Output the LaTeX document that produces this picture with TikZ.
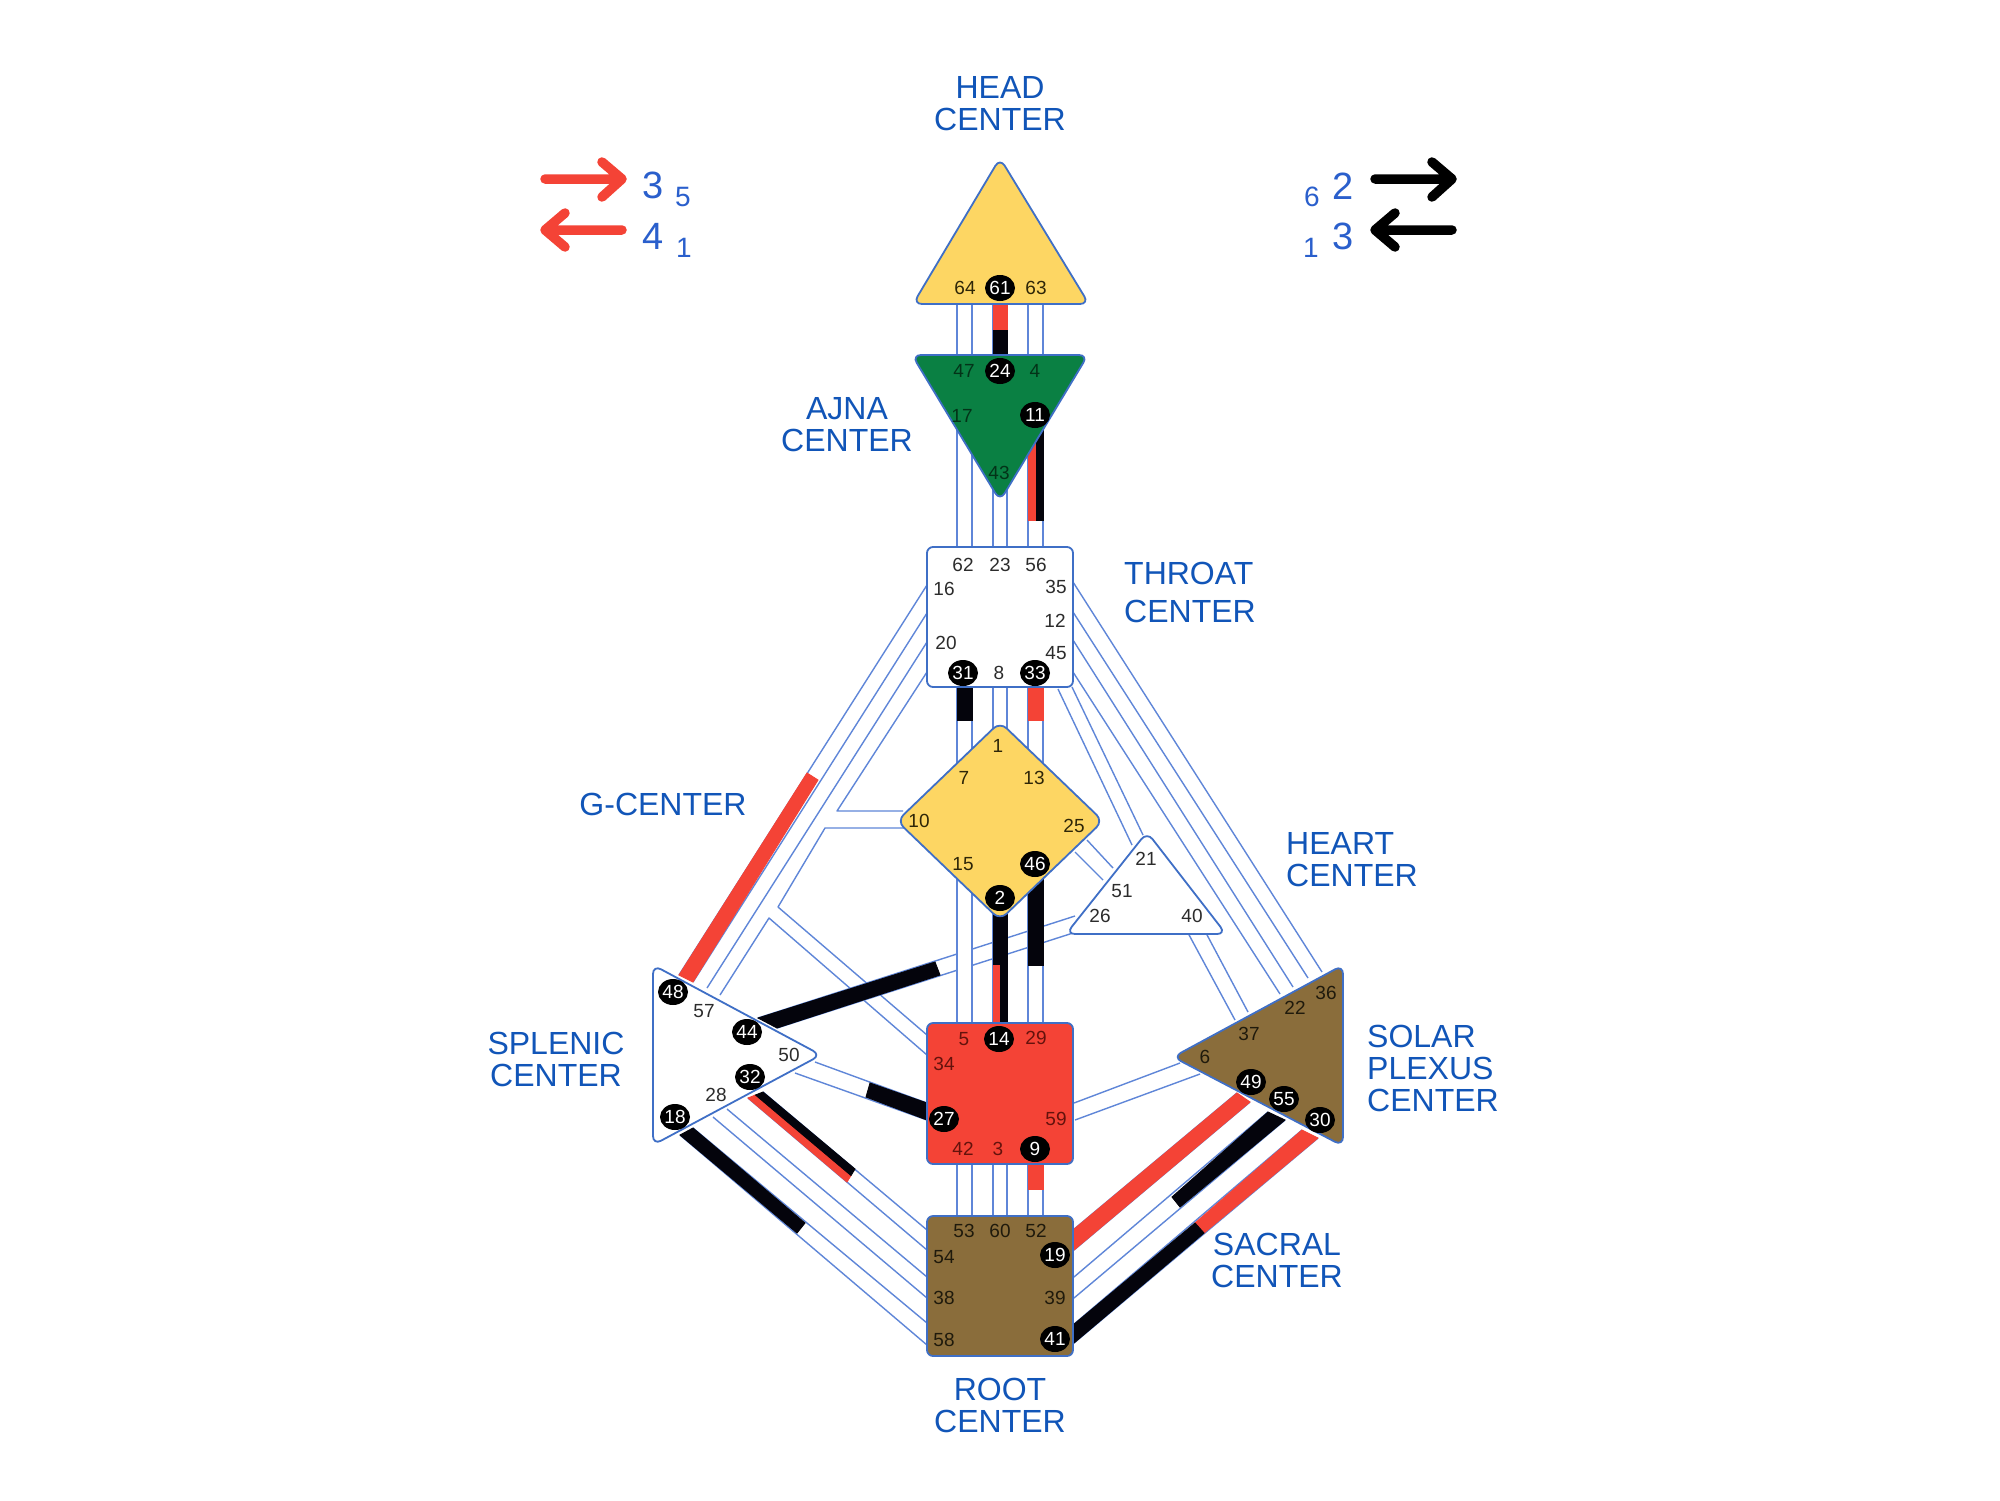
\documentclass[tikz,border=0pt]{standalone}
\usepackage{fontspec}
\setmainfont{Liberation Sans}
\usetikzlibrary{shapes.geometric}
\definecolor{edgeblue}{HTML}{5F86D8}
\definecolor{outlineblue}{HTML}{3F6FC6}
\definecolor{chred}{HTML}{F44336}
\definecolor{chblack}{HTML}{04040C}
\definecolor{headyellow}{HTML}{FDD663}
\definecolor{ajnagreen}{HTML}{0A8043}
\definecolor{rootbrown}{HTML}{8A6D3B}
\definecolor{labelblue}{HTML}{1155B8}
\definecolor{numblue}{HTML}{2A5FCC}
\definecolor{txtwhite}{HTML}{2C2C2C}
\definecolor{txtyellow}{HTML}{2E2608}
\definecolor{txtgreen}{HTML}{033318}
\definecolor{txtred}{HTML}{64120C}
\definecolor{txtbrown}{HTML}{1F1A0C}
\newcommand{\chan}[5]{%
  \coordinate (#1-a) at #2; \coordinate (#1-b) at #3;
  \coordinate (#1-c) at #4; \coordinate (#1-d) at #5;
  \fill[white] (#1-a) -- (#1-b) -- (#1-d) -- (#1-c) -- cycle;
  \draw[edgeline] (#1-a) -- (#1-c);
  \draw[edgeline] (#1-b) -- (#1-d);}
\newcommand{\seg}[5]{\fill[#1,draw=#1,line width=0.9pt] #2 -- #3 -- #4 -- #5 -- cycle;}
\tikzset{
  x=1pt,y=-1pt,
  edgeline/.style={draw=edgeblue,line width=1.4pt},
  centre/.style={draw=outlineblue,line width=1.8pt,line join=round,rounded corners=6pt},
  tri/.style={centre,rounded corners=9pt},
  gatebase/.style={inner sep=0pt,font=\fontsize{19}{19}\selectfont},
  gw/.style={gatebase,text=txtwhite},
  gy/.style={gatebase,text=txtyellow},
  gg/.style={gatebase,text=txtgreen},
  gr/.style={gatebase,text=txtred},
  gb/.style={gatebase,text=txtbrown},
  on/.style={gatebase,ellipse,fill=black,text=white,minimum width=30pt,minimum height=26pt},
  lab/.style={text=labelblue,inner sep=0pt,align=center,font=\fontsize{32}{32}\selectfont},
  labl/.style={lab,align=left,anchor=west},
  bignum/.style={text=numblue,inner sep=0pt,font=\fontsize{38}{38}\selectfont},
  smallnum/.style={text=numblue,inner sep=0pt,font=\fontsize{28}{28}\selectfont},
  arr/.style={line width=9.5pt,line cap=round,line join=round},
}
\begin{document}
\begin{tikzpicture}
\useasboundingbox (0,0) rectangle (2000,1500);
\fill[white] (0,0) rectangle (2000,1500);

% ---------- loose lines of the 20-57 and 10-34 channels
\coordinate (t3) at (927,642); \coordinate (s3) at (707,988);
\coordinate (t4) at (927,672); \coordinate (k1) at (837,811); \coordinate (d1) at (903,811);
\coordinate (d2) at (905,828); \coordinate (k2) at (825,828); \coordinate (k3) at (778,907);
\coordinate (r1) at (927,1035); \coordinate (r2) at (927,1055);
\coordinate (k4) at (769,918); \coordinate (s4) at (720,995);
\draw[edgeline] (t3) -- (s3);
\draw[edgeline,line join=round] (t4) -- (k1) -- (d1);
\draw[edgeline,line join=round] (d2) -- (k2) -- (k3) -- (r1);
\draw[edgeline,line join=round] (s4) -- (k4) -- (r2);

% ---------- diagonal channels
\chan{c16-48}{(927,585)}{(927,613)}{(679,975)}{(693,982)}
\seg{chred}{(807,773)}{(818,780)}{(693,982)}{(679,975)}

\chan{c44-26}{(758,1018)}{(777,1028)}{(1075,916)}{(1073,933)}
\seg{chblack}{(758,1018)}{(777,1028)}{(940,975)}{(935,962)}

\chan{c50-27}{(815,1062)}{(795,1073)}{(927,1103)}{(927,1120)}
\seg{chblack}{(870,1083)}{(866,1097)}{(927,1120)}{(927,1103)}

\chan{c59-6}{(1074,1103)}{(1075,1120)}{(1180,1063)}{(1200,1074)}
\chan{c25-51}{(1087,840)}{(1075,852)}{(1113,868)}{(1103,880)}
\chan{c35-36}{(1073,582)}{(1073,612)}{(1322,972)}{(1308,978)}
\chan{c12-22}{(1073,640)}{(1073,672)}{(1293,987)}{(1280,994)}
\chan{c45-21}{(1058,689)}{(1072,687)}{(1132,845)}{(1143,835)}
\chan{c40-37}{(1188,933)}{(1206,933)}{(1235,1020)}{(1248,1012)}

\chan{c18-58}{(680,1135)}{(693,1128)}{(927,1345)}{(927,1323)}
\seg{chblack}{(680,1135)}{(693,1128)}{(805,1223)}{(797,1233)}
\chan{c28-38}{(713,1117)}{(727,1109)}{(927,1298)}{(927,1277)}
\chan{c32-54}{(748,1098)}{(763,1092)}{(927,1250)}{(927,1230)}
\seg{chred}{(748,1098)}{(755.5,1095)}{(851,1175.5)}{(847,1182)}
\seg{chblack}{(755.5,1095)}{(763,1092)}{(855,1169)}{(851,1175.5)}

\chan{c49-19}{(1237,1093)}{(1250,1102)}{(1073,1230)}{(1074,1250)}
\seg{chred}{(1237,1093)}{(1250,1102)}{(1074,1250)}{(1073,1230)}
\chan{c55-39}{(1268,1112)}{(1285,1120)}{(1074,1277)}{(1074,1298)}
\seg{chblack}{(1268,1112)}{(1285,1120)}{(1180,1207)}{(1172,1197)}
\chan{c30-41}{(1302,1130)}{(1318,1138)}{(1073,1325)}{(1074,1343)}
\seg{chred}{(1302,1130)}{(1318,1138)}{(1204,1233)}{(1195,1223)}
\seg{chblack}{(1195,1223)}{(1204,1233)}{(1074,1343)}{(1073,1325)}

% ---------- vertical channels
\chan{c64-47}{(957,303)}{(972,303)}{(957,355)}{(972,355)}
\chan{c61-24}{(993,303)}{(1007,303)}{(993,355)}{(1007,355)}
\seg{chred}{(993,303)}{(1007,303)}{(1007,330)}{(993,330)}
\seg{chblack}{(993,330)}{(1007,330)}{(1007,355)}{(993,355)}
\chan{c63-4}{(1028,303)}{(1043,303)}{(1028,355)}{(1043,355)}

\chan{c17-62}{(957,420)}{(972,420)}{(957,547)}{(972,547)}
\chan{c43-23}{(993,480)}{(1007,480)}{(993,547)}{(1007,547)}
\chan{c11-56}{(1028,420)}{(1043,420)}{(1028,547)}{(1043,547)}
\seg{chred}{(1028,420)}{(1036,420)}{(1036,520)}{(1028,520)}
\seg{chblack}{(1036,420)}{(1043,420)}{(1043,520)}{(1036,520)}

\chan{c31-7}{(957,687)}{(972,687)}{(957,790)}{(972,790)}
\seg{chblack}{(957,687)}{(972,687)}{(972,720)}{(957,720)}
\chan{c8-1}{(993,687)}{(1007,687)}{(993,740)}{(1007,740)}
\chan{c33-13}{(1028,687)}{(1043,687)}{(1028,790)}{(1043,790)}
\seg{chred}{(1028,687)}{(1043,687)}{(1043,720)}{(1028,720)}

\chan{c15-5}{(957,860)}{(972,860)}{(957,1023)}{(972,1023)}
\chan{c2-14}{(993,890)}{(1007,890)}{(993,1023)}{(1007,1023)}
\seg{chblack}{(993,890)}{(1007,890)}{(1007,965)}{(993,965)}
\seg{chred}{(993,965)}{(1000,965)}{(1000,1023)}{(993,1023)}
\seg{chblack}{(1000,965)}{(1007,965)}{(1007,1023)}{(1000,1023)}
\chan{c46-29}{(1028,860)}{(1043,860)}{(1028,1023)}{(1043,1023)}
\seg{chblack}{(1028,860)}{(1043,860)}{(1043,965)}{(1028,965)}

\chan{c42-53}{(957,1164)}{(972,1164)}{(957,1216)}{(972,1216)}
\chan{c3-60}{(993,1164)}{(1007,1164)}{(993,1216)}{(1007,1216)}
\chan{c9-52}{(1028,1164)}{(1043,1164)}{(1028,1216)}{(1043,1216)}
\seg{chred}{(1028,1164)}{(1043,1164)}{(1043,1189)}{(1028,1189)}

% ---------- centres
\draw[tri,fill=headyellow] (1000,158) -- (1089,304) -- (913,304) -- cycle;
\draw[tri,fill=ajnagreen] (912,355) -- (1088,355) -- (1000,501) -- cycle;
\draw[centre,fill=white] (927,547) rectangle (1073,687);
\draw[tri,fill=headyellow] (1000,722) -- (1103,821) -- (1000,920) -- (897,821) -- cycle;
\draw[tri,fill=white] (1147,832) -- (1226,934) -- (1066,934) -- cycle;
\draw[tri,fill=white] (653,965) -- (821,1055) -- (653,1145) -- cycle;
\draw[tri,fill=rootbrown] (1343,965) -- (1343,1146) -- (1173,1057) -- cycle;
\draw[centre,fill=chred] (927,1023) rectangle (1073,1164);
\draw[centre,fill=rootbrown] (927,1216) rectangle (1073,1356);

% ---------- gates
\node[gy] (g64) at (965,288) {64};
\node[on] (g61) at (1000,288) {61};
\node[gy] (g63) at (1036,288) {63};

\node[gg] (g47) at (964,371) {47};
\node[on] (g24) at (1000,371) {24};
\node[gg] (g4) at (1035,371) {4};
\node[gg] (g17) at (962,416) {17};
\node[on] (g11) at (1035,415) {11};
\node[gg] (g43) at (999,473) {43};

\node[gw] (g62) at (963,565) {62};
\node[gw] (g23) at (1000,565) {23};
\node[gw] (g56) at (1036,565) {56};
\node[gw] (g16) at (944,589) {16};
\node[gw] (g35) at (1056,587) {35};
\node[gw] (g12) at (1055,621) {12};
\node[gw] (g20) at (946,643) {20};
\node[gw] (g45) at (1056,653) {45};
\node[on] (g31) at (963,673) {31};
\node[gw] (g8) at (999,673) {8};
\node[on] (g33) at (1035,673) {33};

\node[gy] (g1) at (998,746) {1};
\node[gy] (g7) at (964,778) {7};
\node[gy] (g13) at (1034,778) {13};
\node[gy] (g10) at (919,821) {10};
\node[gy] (g25) at (1074,826) {25};
\node[gy] (g15) at (963,864) {15};
\node[on] (g46) at (1035,864) {46};
\node[on] (g2) at (1000,898) {2};

\node[gw] (g21) at (1146,859) {21};
\node[gw] (g51) at (1122,891) {51};
\node[gw] (g26) at (1100,916) {26};
\node[gw] (g40) at (1192,916) {40};

\node[on] (g48) at (673,992) {48};
\node[gw] (g57) at (704,1011) {57};
\node[on] (g44) at (747,1032) {44};
\node[gw] (g50) at (789,1055) {50};
\node[on] (g32) at (750,1077) {32};
\node[gw] (g28) at (716,1095) {28};
\node[on] (g18) at (675,1117) {18};

\node[gr] (g5) at (964,1039) {5};
\node[on] (g14) at (999,1039) {14};
\node[gr] (g29) at (1036,1038) {29};
\node[gr] (g34) at (944,1064) {34};
\node[on] (g27) at (944,1119) {27};
\node[gr] (g59) at (1056,1119) {59};
\node[gr] (g42) at (963,1149) {42};
\node[gr] (g3) at (998,1149) {3};
\node[on] (g9) at (1035,1149) {9};

\node[gb] (g53) at (964,1231) {53};
\node[gb] (g60) at (1000,1231) {60};
\node[gb] (g52) at (1036,1231) {52};
\node[gb] (g54) at (944,1257) {54};
\node[on] (g19) at (1055,1255) {19};
\node[gb] (g38) at (944,1298) {38};
\node[gb] (g39) at (1055,1298) {39};
\node[gb] (g58) at (944,1340) {58};
\node[on] (g41) at (1055,1339) {41};

\node[gb] (g36) at (1326,993) {36};
\node[gb] (g22) at (1295,1008) {22};
\node[gb] (g37) at (1249,1034) {37};
\node[gb] (g6) at (1205,1057) {6};
\node[on] (g49) at (1251,1082) {49};
\node[on] (g55) at (1284,1099) {55};
\node[on] (g30) at (1320,1120) {30};

% ---------- labels
\node[lab] (lhead) at (1000,104) {HEAD\\CENTER};
\node[lab] (lajna) at (847,425) {AJNA\\CENTER};
\node[labl,font=\fontsize{32}{38}\selectfont] (lthroat) at (1124,592) {THROAT\\CENTER};
\node[lab] (lg) at (663,804) {G-CENTER};
\node[labl] (lheart) at (1286,860) {HEART\\CENTER};
\node[lab] (lspl) at (556,1059) {SPLENIC\\CENTER};
\node[labl] (lsolar) at (1367,1068) {SOLAR\\PLEXUS\\CENTER};
\node[lab] (lsac) at (1277,1260) {SACRAL\\CENTER};
\node[lab] (lroot) at (1000,1405) {ROOT\\CENTER};

% ---------- definition arrows
\coordinate (ra1) at (545,179); \coordinate (ra2) at (622,179);
\coordinate (ra3) at (602,162); \coordinate (ra4) at (602,197);
\draw[arr,chred] (ra1) -- (ra2) (ra3) -- (ra2) -- (ra4);
\coordinate (rb1) at (622,230); \coordinate (rb2) at (545,230);
\coordinate (rb3) at (565,213); \coordinate (rb4) at (565,247);
\draw[arr,chred] (rb1) -- (rb2) (rb3) -- (rb2) -- (rb4);
\coordinate (ka1) at (1375,179); \coordinate (ka2) at (1452,179);
\coordinate (ka3) at (1432,162); \coordinate (ka4) at (1432,197);
\draw[arr,black] (ka1) -- (ka2) (ka3) -- (ka2) -- (ka4);
\coordinate (kb1) at (1452,230); \coordinate (kb2) at (1375,230);
\coordinate (kb3) at (1395,213); \coordinate (kb4) at (1395,247);
\draw[arr,black] (kb1) -- (kb2) (kb3) -- (kb2) -- (kb4);

\node[bignum] (n3l) at (653,185) {3};
\node[smallnum] (n5l) at (683,197) {5};
\node[bignum] (n4l) at (653,236) {4};
\node[smallnum] (n1l) at (684,248) {1};
\node[bignum] (n2r) at (1343,186) {2};
\node[smallnum] (n6r) at (1312,197) {6};
\node[bignum] (n3r) at (1343,236) {3};
\node[smallnum] (n1r) at (1311,248) {1};
\end{tikzpicture}
\end{document}
